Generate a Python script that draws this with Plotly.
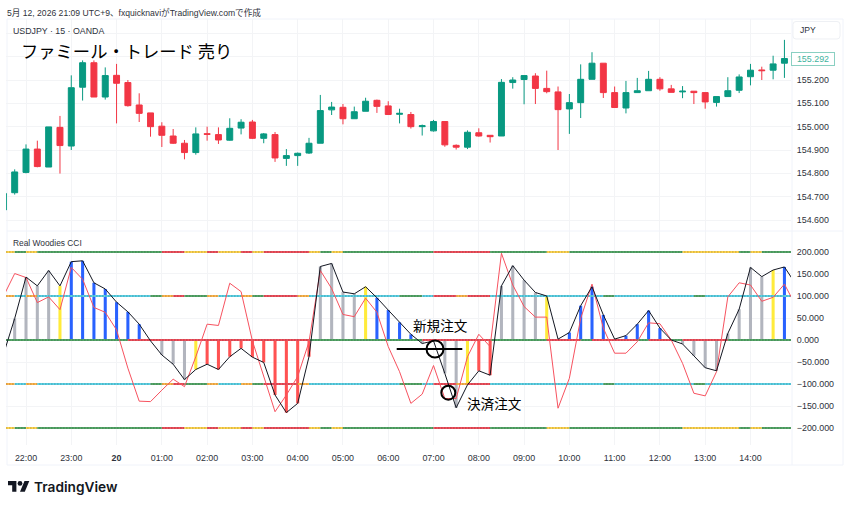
import plotly.graph_objects as go

W, H = 850, 507

# USDJPY 15-minute bars, 21:30 through 14:45
bar_open = [154.643, 154.717, 154.804, 154.904, 154.827, 154.997, 154.917, 155.169, 155.274, 155.127,
            155.220, 155.189, 155.093, 155.059, 155.002, 154.960, 154.929, 154.889, 154.970, 154.966,
            154.942, 154.994, 155.020, 154.950, 154.966, 154.864, 154.876, 154.887, 154.929, 155.072,
            155.083, 155.034, 155.066, 155.113, 155.089, 155.053, 155.052, 155.000, 154.982, 155.022,
            154.920, 154.912, 154.974, 154.963, 154.960, 155.189, 155.202, 155.217, 155.164, 155.149,
            155.076, 155.103, 155.203, 155.272, 155.146, 155.080, 155.146, 155.154, 155.203, 155.162,
            155.149, 155.152, 155.146, 155.104, 155.129, 155.156, 155.214, 155.243, 155.242, 155.272]
bar_high = [154.714, 154.817, 154.924, 154.940, 154.999, 155.046, 155.220, 155.284, 155.284, 155.254,
            155.269, 155.200, 155.143, 155.059, 155.019, 154.990, 154.943, 154.997, 155.000, 154.997,
            155.036, 155.032, 155.029, 154.973, 154.977, 154.904, 154.889, 154.952, 155.136, 155.106,
            155.097, 155.086, 155.124, 155.116, 155.109, 155.077, 155.063, 155.009, 155.029, 155.022,
            154.924, 154.984, 154.993, 154.963, 155.204, 155.212, 155.219, 155.229, 155.240, 155.172,
            155.140, 155.267, 155.319, 155.272, 155.172, 155.196, 155.209, 155.239, 155.212, 155.179,
            155.174, 155.152, 155.146, 155.129, 155.212, 155.224, 155.269, 155.257, 155.304, 155.372]
bar_low = [154.643, 154.709, 154.800, 154.826, 154.827, 154.799, 154.900, 155.112, 155.127, 155.116,
           155.014, 155.086, 155.020, 154.957, 154.913, 154.926, 154.860, 154.880, 154.940, 154.926,
           154.940, 154.967, 154.947, 154.929, 154.849, 154.832, 154.832, 154.883, 154.929, 155.050,
           155.010, 155.034, 155.066, 155.059, 155.052, 155.014, 154.992, 154.962, 154.979, 154.914,
           154.902, 154.904, 154.957, 154.932, 154.960, 155.163, 155.096, 155.097, 155.143, 154.900,
           154.969, 155.037, 155.203, 155.123, 155.082, 155.057, 155.146, 155.154, 155.154, 155.147,
           155.122, 155.097, 155.077, 155.086, 155.129, 155.144, 155.177, 155.200, 155.203, 155.209]
bar_close = [154.714, 154.806, 154.904, 154.829, 154.999, 154.919, 155.167, 155.274, 155.127, 155.219,
             155.186, 155.090, 155.057, 155.000, 154.963, 154.929, 154.889, 154.969, 154.967, 154.943,
             154.993, 155.019, 154.950, 154.969, 154.866, 154.876, 154.886, 154.929, 155.069, 155.084,
             155.034, 155.064, 155.109, 155.087, 155.052, 155.057, 155.000, 155.004, 155.022, 154.922,
             154.912, 154.976, 154.960, 154.957, 155.190, 155.200, 155.219, 155.164, 155.150, 155.073,
             155.103, 155.203, 155.272, 155.146, 155.082, 155.146, 155.154, 155.203, 155.162, 155.147,
             155.152, 155.146, 155.106, 155.129, 155.154, 155.213, 155.242, 155.240, 155.269, 155.292]

# Woodies CCI and its turbo companion; the last value sits just past the right edge
cci = [-33, 49, 143, 123, 158, 123, 178, 180, 130, 116, 86, 64, 36, -2, -34, -55, -90, -67, -55, -67,
       -38, -19, -39, -51, -125, -165, -144, -38, 167, 174, 109, 105, 121, 96, 68, 40, 13, -8, -2, -76,
       -154, -102, -70, -80, 123, 169, 136, 108, 100, 2, 17, 78, 121, 57, 2, 10, 36, 67, 27, 0,
       -9, -36, -63, -70, 15, 70, 165, 144, 159, 166, 127]
turbo = [99, 151, 142, 85, 98, 69, 165, 138, 74, 63, 23, -64, -139, -140, -114, -89, -106, -38, 36, 33,
         129, 110, -2, -80, -163, -125, -83, -4, 158, 117, 58, 53, 95, 63, -15, -72, -144, -123, -58, -133,
         -133, -38, 13, -15, 197, 125, 76, 52, 52, -155, -87, 49, 127, 27, -30, -30, -4, 39, 37, 0,
         -53, -121, -127, -72, 98, 130, 125, 88, 97, 127, 78]

# Histogram state per bar: g neutral, y last-of-trend, b trending up, r trending down
hist_state = list("gggggybbbbbbbgggg" "yrrrrrrrrrr" "ggggy" "bbbb" "gggg" "yrr" "gggg" "y" "bbbbbbbbbbb"
                  "gggggggg" "yb")

# Runs of (first bar, last bar, colour key) along the oscillator levels
outer_runs = [(0, 1, "y"), (1, 2, "g"), (2, 3, "y"), (3, 14, "g"), (14, 16, "r"), (16, 18, "y"),
              (18, 19, "r"), (19, 21, "y"), (21, 22, "r"), (22, 23, "y"), (23, 27, "r"), (27, 28, "y"),
              (28, 29, "g"), (29, 30, "y"), (30, 38, "g"), (38, 43, "r"), (43, 48, "g"), (48, 50, "y"),
              (50, 60, "g"), (60, 65, "y"), (65, 66, "g"), (66, 67, "y"), (67, 71, "g")]
inner_runs = [(0, 1, "o"), (1, 2, "c"), (2, 3, "o"), (3, 13, "c"), (13, 14, "g"), (14, 15, "o"),
              (15, 16, "r"), (16, 18, "g"), (18, 19, "o"), (19, 21, "c"), (21, 22, "o"), (22, 23, "g"),
              (23, 26, "r"), (26, 27, "o"), (27, 35, "c"), (35, 37, "g"), (37, 38, "c"), (38, 40, "r"),
              (40, 41, "o"), (41, 43, "r"), (43, 53, "c"), (53, 54, "g"), (54, 61, "c"), (61, 62, "g"),
              (62, 71, "c")]
zero_runs = [(0, 11, "g"), (11, 27, "r"), (27, 37, "g"), (37, 43, "r"), (43, 48, "g"), (48, 51, "r"),
             (51, 52, "g"), (52, 56, "r"), (56, 57, "g"), (57, 59, "r"), (59, 60, "g"), (60, 64, "r"),
             (64, 71, "g")]

hour_positions = [2, 6, 10, 14, 18, 22, 26, 30, 34, 38, 42, 46, 50, 54, 58, 62, 66]
hour_labels = ["22:00", "23:00", "<b>20</b>", "01:00", "02:00", "03:00", "04:00", "05:00", "06:00",
               "07:00", "08:00", "09:00", "10:00", "11:00", "12:00", "13:00", "14:00"]
price_ticks = [154.6, 154.7, 154.8, 154.9, 155.0, 155.1, 155.2, 155.3, 155.4]
price_labels = ["154.600", "154.700", "154.800", "154.900", "155.000", "155.100", "155.200", "", ""]
cci_ticks = [200, 150, 100, 50, 0, -50, -100, -150, -200]

GREEN, RED = "#089981", "#F23645"
HIST_COLOURS = {"g": "#B2B5BE", "y": "#FFEB3B", "b": "#2962FF", "r": "#FF5252"}
LEVEL_COLOURS = {"g": "#55A868", "y": "#FFD54F", "r": "#F0505C", "o": "#FFB74D", "c": "#5CD3E6"}
GRID = "#F3F4F6"
FRAME = "#F0F3FA"
TEXT = "#2E323C"
LATIN = "Liberation Sans, Noto Sans CJK JP, sans-serif"
CJK = "Noto Sans CJK JP, sans-serif"


def px(x):
    return x / W


def py(y):
    return 1 - y / H


bars = list(range(len(bar_open)))
line_bars = list(range(len(cci)))

fig = go.Figure()

fig.add_trace(go.Candlestick(
    x=bars, open=bar_open, high=bar_high, low=bar_low, close=bar_close,
    increasing=dict(line=dict(color=GREEN, width=1), fillcolor=GREEN),
    decreasing=dict(line=dict(color=RED, width=1), fillcolor=RED),
    whiskerwidth=0, hoverinfo="skip", showlegend=False, xaxis="x", yaxis="y",
))

fig.add_trace(go.Bar(
    x=bars, y=cci[:len(bars)], width=0.27,
    marker=dict(color=[HIST_COLOURS[s] for s in hist_state], line=dict(width=0)),
    hoverinfo="skip", showlegend=False, xaxis="x2", yaxis="y2",
))

# Coloured level strips with a dotted dark line running over them
for level, runs in [(200, outer_runs), (100, inner_runs), (0, zero_runs), (-100, inner_runs), (-200, outer_runs)]:
    for first, last, key in runs:
        fig.add_trace(go.Scatter(
            x=[first, last], y=[level, level], mode="lines",
            line=dict(color=LEVEL_COLOURS[key], width=2),
            hoverinfo="skip", showlegend=False, xaxis="x2", yaxis="y2",
        ))
    fig.add_trace(go.Scatter(
        x=[0, 71], y=[level, level], mode="lines",
        line=dict(color="rgba(19,23,34,0.45)", width=1, dash="1px 2px"),
        hoverinfo="skip", showlegend=False, xaxis="x2", yaxis="y2",
    ))

fig.add_trace(go.Scatter(
    x=line_bars, y=turbo, mode="lines", line=dict(color="#F7525F", width=1),
    hoverinfo="skip", showlegend=False, xaxis="x2", yaxis="y2",
))
fig.add_trace(go.Scatter(
    x=line_bars, y=cci, mode="lines", line=dict(color="#131722", width=1),
    hoverinfo="skip", showlegend=False, xaxis="x2", yaxis="y2",
))


def label(text, x, y, size, family=LATIN, color=TEXT, anchor="left", **font_extra):
    # The 2px nudge cancels the inner padding plotly puts around annotation text
    return dict(text=text, x=px(x - 2), y=py(y), xref="paper", yref="paper", xanchor=anchor, yanchor="middle",
                showarrow=False, font=dict(family=family, size=size, color=color, **font_extra))


annotations = [
    label("5月 12, 2026 21:09 UTC+9、fxquicknaviがTradingView.comで作成", 7, 12, 8.6),
    label("USDJPY · 15 · OANDA", 13, 31, 8.8),
    label("ファミール・トレード 売り", 21, 50, 17.3, family=CJK, color="#000000"),
    label("Real Woodies CCI", 13, 243, 8.4),
    label("JPY", 800, 30, 8.6),
    label("新規注文", 412.5, 325, 13.6, family=CJK, color="#000000"),
    label("決済注文", 466.5, 403, 13.6, family=CJK, color="#000000"),
    label("TradingView", 34, 487, 13.7, family="Inter, sans-serif", color="#131722", weight=600),
    dict(text="155.292", x=px(812.5), y=bar_close[-1], xref="paper", yref="y", xanchor="center", yanchor="middle",
         showarrow=False, font=dict(family=LATIN, size=8.9, color="#3FB39E"),
         bgcolor="#FFFFFF", bordercolor="#8AD0C2", borderwidth=1, borderpad=1, width=40),
]


def rect(x0, y0, x1, y1, color, width=1, fill=None):
    return dict(type="rect", xref="paper", yref="paper", x0=px(x0), y0=py(y0), x1=px(x1), y1=py(y1),
                line=dict(color=color, width=width), fillcolor=fill, layer="below")


def hline(x0, x1, y, color, width):
    return dict(type="line", xref="paper", yref="paper", x0=px(x0), x1=px(x1), y0=py(y), y1=py(y),
                line=dict(color=color, width=width))


def ring(cx, cy, r):
    return dict(type="circle", xref="paper", yref="paper", x0=px(cx - r), x1=px(cx + r),
                y0=py(cy - r), y1=py(cy + r), line=dict(color="#000000", width=2))


def logo_path(points):
    # Logo outline from a 36x28 design grid placed next to the wordmark
    cmds = []
    for i, (vx, vy) in enumerate(points):
        cmds.append(f"{'M' if i == 0 else 'L'}{px(8 + 0.6 * vx):.5f},{py(478.6 + 0.6 * vy):.5f}")
    return " ".join(cmds) + " Z"


shapes = [
    rect(7, 19, 843, 465, FRAME),
    hline(7, 843, 231, FRAME, 1),
    dict(type="line", xref="paper", yref="paper", x0=px(792), x1=px(792), y0=py(19), y1=py(465),
         line=dict(color=FRAME, width=1), layer="below"),
    dict(type="path", xref="paper", yref="paper", layer="above",
         path=f"M{px(796):.5f},{py(21.5):.5f} L{px(837):.5f},{py(21.5):.5f} Q{px(840):.5f},{py(21.5):.5f} {px(840):.5f},{py(24.5):.5f} "
              f"L{px(840):.5f},{py(36):.5f} Q{px(840):.5f},{py(39):.5f} {px(837):.5f},{py(39):.5f} L{px(796):.5f},{py(39):.5f} "
              f"Q{px(793):.5f},{py(39):.5f} {px(793):.5f},{py(36):.5f} L{px(793):.5f},{py(24.5):.5f} Q{px(793):.5f},{py(21.5):.5f} {px(796):.5f},{py(21.5):.5f} Z",
         line=dict(color="#EEF0F4", width=1), fillcolor="rgba(0,0,0,0)"),
    hline(396.7, 462.3, 349, "#000000", 2),
    ring(435, 349, 8.5),
    ring(448.3, 392.7, 7),
    dict(type="path", xref="paper", yref="paper", line=dict(width=0), fillcolor="#131722",
         path=logo_path([(0, 4), (14, 4), (14, 22), (7, 22), (7, 11), (0, 11)])),
    dict(type="path", xref="paper", yref="paper", line=dict(width=0), fillcolor="#131722",
         path=logo_path([(27.5, 4), (35.5, 4), (28, 22), (20, 22)])),
    dict(type="circle", xref="paper", yref="paper", line=dict(width=0), fillcolor="#131722",
         x0=px(8 + 0.6 * 16), x1=px(8 + 0.6 * 24), y0=py(478.6 + 0.6 * 4), y1=py(478.6 + 0.6 * 12)),
]

# The pane opens one pixel further left so the clipped 21:30 bar still shows a sliver
X_RANGE = [0.2327, 69.58]
axis_common = dict(showgrid=True, gridcolor=GRID, gridwidth=1, zeroline=False, showline=False)

fig.update_layout(
    width=W, height=H, autosize=False,
    margin=dict(l=0, r=0, t=0, b=0),
    paper_bgcolor="#FFFFFF", plot_bgcolor="rgba(0,0,0,0)",
    showlegend=False, hovermode=False, boxgap=0.25, barmode="overlay",
    font=dict(family=LATIN, size=8.9, color=TEXT),
    xaxis=dict(domain=[px(6), px(791)], range=X_RANGE, anchor="y", tickmode="array", tickvals=hour_positions,
               showticklabels=False, ticks="", rangeslider=dict(visible=False), **axis_common),
    yaxis=dict(domain=[py(231), py(19)], range=[154.5529, 155.4614], side="right", anchor="x", tickmode="array",
               tickvals=price_ticks, ticktext=price_labels, ticks="outside", ticklen=3, tickcolor="rgba(0,0,0,0)",
               **axis_common),
    xaxis2=dict(domain=[px(6), px(791)], range=X_RANGE, anchor="y2", tickmode="array", tickvals=hour_positions,
                ticktext=hour_labels, ticks="outside", ticklen=4, tickcolor="rgba(0,0,0,0)", **axis_common),
    yaxis2=dict(domain=[py(445), py(231)], range=[-238.6, 247.7], side="right", anchor="x2", tickmode="array",
                tickvals=cci_ticks, tickformat=".3f", ticks="outside", ticklen=3, tickcolor="rgba(0,0,0,0)",
                **axis_common),
    annotations=annotations,
    shapes=shapes,
)

fig.write_html("out.html", config=dict(displayModeBar=False, staticPlot=True))
